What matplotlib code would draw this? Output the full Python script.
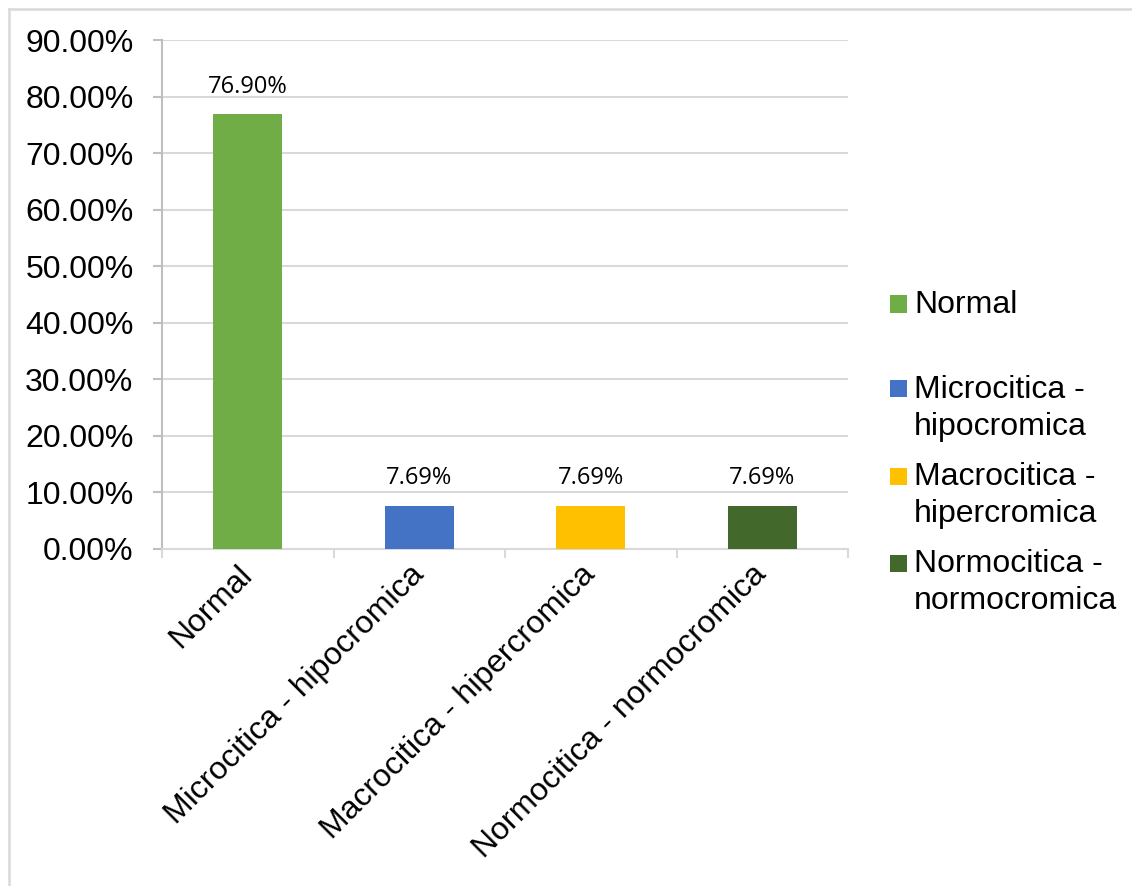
import matplotlib
matplotlib.use("Agg")
import matplotlib.pyplot as plt
from matplotlib.patches import Rectangle
from matplotlib.lines import Line2D
from matplotlib.ticker import FuncFormatter, MultipleLocator

categories = ["Normal", "Microcitica - hipocromica",
              "Macrocitica - hipercromica", "Normocitica - normocromica"]
values = [76.90, 7.69, 7.69, 7.69]
value_labels = ["76.90%", "7.69%", "7.69%", "7.69%"]
colors = ["#70AD47", "#4472C4", "#FFC000", "#43682B"]

W, H = 1132, 886
fig = plt.figure(figsize=(W / 100, H / 100), dpi=100)
fig.patch.set_facecolor("white")


def fx(px):
    return px / W


def fy(py):
    return 1 - py / H


# outer chart frame (top and left edges visible)
frame_col = "#D9D9D9"
fig.add_artist(Line2D([fx(8.5), fx(W)], [fy(8.5), fy(8.5)], color=frame_col,
                      lw=1.8, transform=fig.transFigure))
fig.add_artist(Line2D([fx(8.5), fx(8.5)], [fy(8.5), 0], color=frame_col,
                      lw=1.8, transform=fig.transFigure))

left, right, top, bottom = 162, 848, 40, 549
ax = fig.add_axes([fx(left), fy(bottom), fx(right - left), (bottom - top) / H])

x = list(range(len(categories)))
ax.bar(x, values, width=0.40, color=colors, zorder=3)
ax.set_xlim(-0.5, len(categories) - 0.5)
ax.set_ylim(0, 90)

ax.yaxis.set_major_locator(MultipleLocator(10))
ax.yaxis.set_major_formatter(FuncFormatter(lambda v, _: f"{v:.2f}%"))
ax.grid(axis="y", color="#D9D9D9", lw=1.5, zorder=0)

for s in ["top", "right"]:
    ax.spines[s].set_visible(False)
ax.spines["left"].set_color("#BFBFBF")
ax.spines["left"].set_linewidth(1.5)
ax.spines["bottom"].set_color("#D9D9D9")
ax.spines["bottom"].set_linewidth(1.5)

tick_font = dict(family=["Liberation Sans", "DejaVu Sans"], size=23)
ax.tick_params(axis="y", length=6.5, width=1.5, color="#BFBFBF", pad=14)
for lab in ax.get_yticklabels():
    lab.set_fontfamily(tick_font["family"])
    lab.set_fontsize(tick_font["size"])

# category boundary ticks on the x axis
ax.set_xticks([i - 0.5 for i in range(len(categories) + 1)], minor=True)
ax.tick_params(axis="x", which="minor", length=6.5, width=1.5, color="#D9D9D9")
ax.set_xticks(x)
ax.tick_params(axis="x", which="major", length=0, pad=15)
ax.set_xticklabels(categories, rotation=45, ha="right", va="center",
                   rotation_mode="anchor", **tick_font)

for xi, v, lab in zip(x, values, value_labels):
    ax.annotate(lab, (xi, v), xytext=(0, 19.5), textcoords="offset points",
                ha="center", va="center", fontsize=17,
                family=["Open Sans", "DejaVu Sans"], color="#000000")

# legend
base_first = [313, 398, 485, 572]
line_gap = 37
for cat, col, b in zip(categories, colors, base_first):
    fig.add_artist(Rectangle((fx(890), fy(b - 0.5)), fx(17), 17 / H,
                             facecolor=col, edgecolor="none",
                             transform=fig.transFigure))
    parts = cat.split(" - ")
    lines = [parts[0] + " -", parts[1]] if len(parts) > 1 else parts
    for k, line in enumerate(lines):
        fig.text(fx(914), fy(b + k * line_gap), line, ha="left", va="baseline",
                 **tick_font)

fig.savefig("out.png", dpi=100, facecolor="white")
